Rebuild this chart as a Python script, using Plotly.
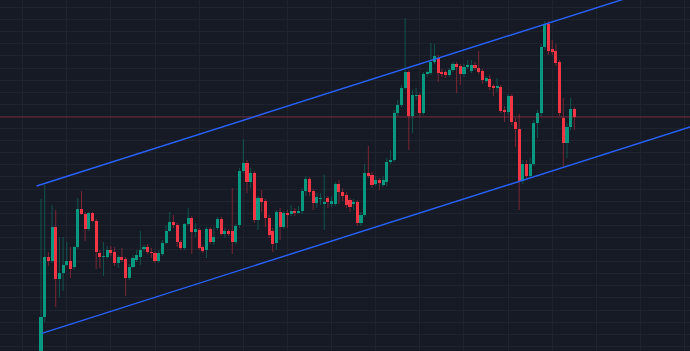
import plotly.graph_objects as go

# ---- data (prices, arbitrary units) ----
open_ = [44,83,143,139,173,121,127,135,139,133,153,191,186,171,187,179,147,143,143,150,
         148,137,143,141,122,133,140,143,151,153,148,147,139,146,157,169,178,175,158,152,
         176,182,168,170,153,150,171,158,172,181,166,169,169,158,175,229,237,218,227,180,
         202,199,182,169,157,188,173,187,186,189,187,189,209,221,209,197,201,196,202,196,
         196,216,208,205,200,196,198,177,185,227,225,216,220,215,218,238,240,287,295,312,
         328,284,304,305,287,326,327,338,342,328,328,325,330,336,334,326,333,329,335,332,
         329,319,321,314,312,313,290,288,304,278,271,219,236,224,236,277,287,353,376,351,
         349,338,282,257,273,291]
high = [201,215,148,195,190,163,163,158,153,154,202,209,188,188,188,181,150,158,154,154,
        153,145,152,143,136,145,150,169,155,156,152,149,150,160,175,188,185,177,160,177,
        192,184,177,172,155,173,173,173,183,183,172,171,212,176,232,261,240,232,229,204,
        210,201,185,172,190,192,189,190,195,192,194,212,224,223,211,207,207,225,204,204,
        218,220,212,208,202,201,200,188,236,254,228,224,222,224,242,250,290,300,315,382,
        330,310,312,307,328,330,357,356,345,331,330,332,338,338,336,336,340,340,338,349,
        331,324,325,316,322,315,294,306,306,282,286,240,240,242,280,290,356,379,379,360,
        356,340,302,277,302,293]
low = [38,78,134,137,93,103,109,134,122,130,151,185,159,169,178,131,132,124,141,144,
       134,132,138,104,120,132,138,135,149,146,142,137,137,144,156,168,172,153,150,150,
       174,146,163,150,147,142,156,155,170,164,162,164,146,156,172,227,207,212,177,170,
       188,173,162,148,150,160,171,172,184,184,186,186,204,204,190,192,195,170,192,193,
       194,196,199,192,188,190,174,174,183,222,212,214,210,213,214,236,238,284,293,310,
       250,267,300,284,285,323,325,336,318,323,322,323,328,307,315,323,331,327,330,326,
       316,317,310,304,308,287,278,285,275,253,190,216,222,222,234,262,284,350,345,345,
       334,284,233,242,270,270]
close = [83,143,139,173,121,127,135,139,131,153,191,186,171,187,179,148,143,144,150,147,
         137,143,140,122,133,142,145,150,153,148,147,139,147,157,169,178,175,158,152,176,
         182,168,171,152,149,171,158,163,181,166,169,166,158,174,229,237,218,227,180,202,
         198,182,165,156,188,173,187,185,189,187,189,209,221,208,197,203,202,198,198,199,
         216,208,204,195,193,198,177,185,227,224,215,220,217,220,238,240,287,295,312,328,
         284,305,305,287,326,328,338,344,327,326,325,330,336,333,326,333,334.5,335,332,328,
         320,322,313,312,314,289,288,304,278,271,219,236,224,236,277,287,353,376,349,348,
         337,287,257,273,291,283]

# drawn channel (bar index, price)
upper_channel_x = [-1.2, 176.5]
upper_channel_y = [214.0, 422.0]
lower_channel_x = [0.2, 176.5]
lower_channel_y = [66.7, 273.0]

X_RANGE = [-11.15, 176.45]
Y_RANGE = [49, 400]

UP = "#089981"
DN = "#F23645"
UP_WICK = "rgba(8,153,129,0.45)"
DN_WICK = "rgba(242,54,69,0.45)"
BG = "#161A25"
GRID = "#1F2330"

idx = list(range(len(open_)))

fig = go.Figure()

# last price line (drawn first, beneath candles but above grid)
fig.add_trace(go.Scatter(x=X_RANGE, y=[close[-1], close[-1]], mode="lines",
                         line=dict(color="rgba(242,54,69,0.42)", width=1),
                         hoverinfo="skip", showlegend=False))

# wicks
for color, cond in ((UP_WICK, True), (DN_WICK, False)):
    xs, ys = [], []
    for i in idx:
        if (close[i] >= open_[i]) == cond:
            xs += [i, i, None]
            ys += [low[i], high[i], None]
    fig.add_trace(go.Scatter(x=xs, y=ys, mode="lines",
                             line=dict(color=color, width=1),
                             hoverinfo="skip", showlegend=False))

# bodies
for color, cond in ((UP, True), (DN, False)):
    bx, bb, bh = [], [], []
    for i in idx:
        if (close[i] >= open_[i]) == cond:
            bx.append(i)
            bb.append(min(open_[i], close[i]))
            bh.append(max(abs(close[i] - open_[i]), 1.0))
    fig.add_trace(go.Bar(x=bx, y=bh, base=bb, width=0.84,
                         marker=dict(color=color, line=dict(width=0)),
                         hoverinfo="skip", showlegend=False))

# channel lines
fig.add_trace(go.Scatter(x=upper_channel_x, y=upper_channel_y, mode="lines",
                         line=dict(color="#2962FF", width=1.4),
                         hoverinfo="skip", showlegend=False))
fig.add_trace(go.Scatter(x=lower_channel_x, y=lower_channel_y, mode="lines",
                         line=dict(color="#2962FF", width=1.4),
                         hoverinfo="skip", showlegend=False))

fig.update_layout(
    width=690, height=351,
    margin=dict(l=0, r=0, t=0, b=0),
    paper_bgcolor=BG, plot_bgcolor=BG,
    barmode="overlay", showlegend=False, bargap=0,
    xaxis=dict(range=X_RANGE, showticklabels=False, zeroline=False,
               showline=False, showgrid=True, gridcolor=GRID, gridwidth=1,
               tick0=-5, dtick=12),
    yaxis=dict(range=Y_RANGE, showticklabels=False, zeroline=False,
               showline=False, showgrid=True, gridcolor=GRID, gridwidth=1,
               tick0=392.5, dtick=12.1),
)

fig.write_html("out.html")
